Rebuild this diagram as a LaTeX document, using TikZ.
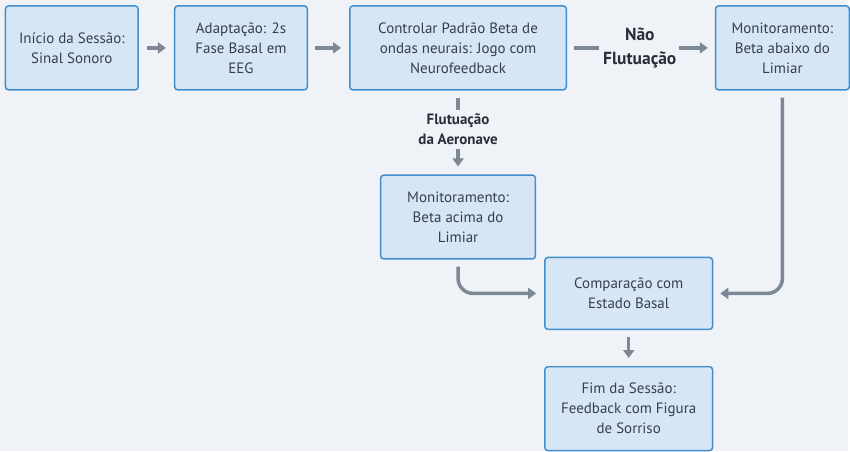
\documentclass[tikz,border=0pt]{standalone}
\usepackage{fontspec}
\setmainfont{PT Sans}
\usetikzlibrary{positioning,arrows.meta}

\definecolor{bgcol}{RGB}{239,243,247}
\definecolor{boxfill}{RGB}{214,230,245}
\definecolor{boxline}{RGB}{66,141,204}
\definecolor{txtcol}{RGB}{55,63,75}
\definecolor{lblcol}{RGB}{40,47,58}
\definecolor{arrowgray}{RGB}{124,136,150}

\begin{document}
\begin{tikzpicture}[
  x=1pt, y=1pt,
  font=\fontsize{15}{20}\selectfont,
  box/.style={
    draw=boxline,
    rounded corners=3pt,
    line width=1.5pt,
    fill=boxfill,
    text=txtcol,
    align=center,
    inner sep=4pt,
    minimum height=84pt
  },
  lbl/.style={
    text=lblcol,
    align=center,
    inner sep=4pt
  },
  link/.style={draw=arrowgray, line width=3.5pt},
  flow/.style={link, -{Triangle[length=8pt,width=11pt]}}
]
\fill[bgcol] (0,0) rectangle (850,-452);
\node[box, minimum width=133pt] (inicio) at (72,-48) {Início da Sessão:\\Sinal Sonoro};
\node[box, minimum width=133pt, right=35pt of inicio] (adaptacao) {Adaptação: 2s\\Fase Basal em\\EEG};
\node[box, minimum width=217pt, right=41pt of adaptacao] (controlar) {Controlar Padrão Beta de\\ondas neurais: Jogo com\\Neurofeedback};
\node[lbl, font=\fontsize{17.5}{24}\selectfont\bfseries, right=32pt of controlar] (naoflut) {Não\\Flutuação};
\node[box, minimum width=134pt, right=148pt of controlar] (abaixo) {Monitoramento:\\Beta abaixo do\\Limiar};
\node[lbl, font=\fontsize{15}{20}\selectfont\bfseries, below=19pt of controlar] (flutaero) {Flutuação\\da Aeronave};
\node[box, minimum width=155pt, below=84pt of controlar] (acima) {Monitoramento:\\Beta acima do\\Limiar};
\node[box, minimum width=168pt, minimum height=72pt] (comparacao) at (630,-294) {Comparação com\\Estado Basal};
\node[box, minimum width=168pt, below=36pt of comparacao] (fim) {Fim da Sessão:\\Feedback com Figura\\de Sorriso};
\draw[flow, shorten <=8pt, shorten >=8pt] (inicio.east) -- (adaptacao.west);
\draw[flow, shorten <=7pt, shorten >=8pt] (adaptacao.east) -- (controlar.west);
\draw[link, shorten <=7pt] (controlar.east) -- (naoflut.west);
\draw[flow, shorten <=-2pt, shorten >=7pt] (naoflut.east) -- (abaixo.west);
\draw[link, shorten <=7pt] (controlar.south) -- (flutaero.north);
\draw[flow, shorten >=8pt] (flutaero.south) -- (acima.north);
\draw[flow, rounded corners=15pt, shorten <=7pt, shorten >=8pt] (acima.south) |- (comparacao.west);
\draw[flow, rounded corners=15pt, shorten <=7pt, shorten >=7pt] (abaixo.south) |- (comparacao.east);
\draw[flow, shorten <=7pt, shorten >=8pt] (comparacao.south) -- (fim.north);
\end{tikzpicture}
\end{document}
